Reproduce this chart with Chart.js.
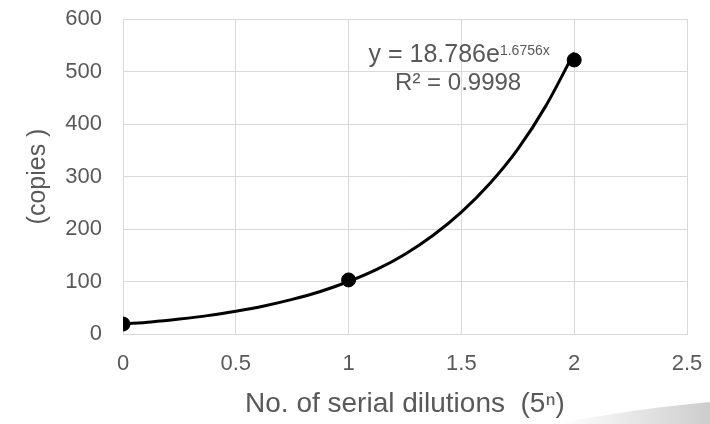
<!DOCTYPE html>
<html>
<head>
<meta charset="utf-8">
<script src="https://cdn.jsdelivr.net/npm/chart.js@4"></script>
<style>
  html, body { margin: 0; padding: 0; background: #fff; }
  #wrap { width: 710px; height: 424px; }
</style>
</head>
<body>
<div id="wrap"><canvas id="chart" width="710" height="424"></canvas></div>
<script>
// measured points
var dilutions = [0, 1, 2];
var copies = [19, 103, 522];

// exponential trendline
var trendX = [0, 0.125, 0.25, 0.375, 0.5, 0.625, 0.75, 0.875, 1, 1.125, 1.25, 1.375, 1.5, 1.625, 1.75, 1.875, 2];
var trendY = [19, 23, 28.5, 35, 43.5, 53.5, 66, 81, 100, 123, 152, 188, 232, 286, 352, 435, 536];

var equationText = "y = 18.786e";
var equationExp = "1.6756x";
var r2Text = "R² = 0.9998";

var textColor = "#595959";
var gridColor = "#d9d9d9";
var fontFamily = "'Liberation Sans', Arial, sans-serif";

// grey swoosh in the bottom right corner
var swoosh = {
    id: "swoosh",
    beforeDraw: function(chart) {
        var ctx = chart.ctx;
        ctx.save();
        var g = ctx.createLinearGradient(560, 0, 710, 0);
        g.addColorStop(0, "rgba(205,205,205,0)");
        g.addColorStop(1, "rgba(205,205,205,1)");
        ctx.fillStyle = g;
        ctx.beginPath();
        ctx.moveTo(555, 424);
        ctx.quadraticCurveTo(640, 408, 710, 402);
        ctx.lineTo(710, 424);
        ctx.closePath();
        ctx.fill();
        ctx.restore();
    }
};

// trendline label
var trendLabel = {
    id: "trendLabel",
    afterDraw: function(chart) {
        var ctx = chart.ctx;
        var xs = chart.scales.x, ys = chart.scales.y;
        var cx = xs.getPixelForValue(1.49);
        var y1 = ys.getPixelForValue(518);
        var y2 = ys.getPixelForValue(465);
        ctx.save();
        ctx.fillStyle = textColor;
        ctx.textBaseline = "alphabetic";
        ctx.font = "25px " + fontFamily;
        var w1 = ctx.measureText(equationText).width;
        ctx.font = "14px " + fontFamily;
        var w2 = ctx.measureText(equationExp).width;
        var start = cx - (w1 + w2) / 2;
        ctx.textAlign = "left";
        ctx.font = "25px " + fontFamily;
        ctx.fillText(equationText, start, y1);
        ctx.font = "14px " + fontFamily;
        ctx.fillText(equationExp, start + w1, y1 - 7);
        ctx.font = "24px " + fontFamily;
        ctx.textAlign = "center";
        ctx.fillText(r2Text, cx - 1, y2);
        ctx.restore();
    }
};

new Chart("chart", {
    type: "scatter",
    data: {
        datasets: [{
            label: "Trend",
            type: "line",
            data: trendX.map(function(x, i) { return { x: x, y: trendY[i] }; }),
            borderColor: "#000",
            borderWidth: 3,
            pointRadius: 0,
            cubicInterpolationMode: "monotone",
            fill: false,
            order: 2
        }, {
            label: "copies",
            data: dilutions.map(function(x, i) { return { x: x, y: copies[i] }; }),
            backgroundColor: "#000",
            borderColor: "#000",
            pointRadius: 7,
            pointHoverRadius: 7,
            order: 1
        }]
    },
    options: {
        responsive: false,
        animation: false,
        layout: { padding: { top: 19, right: 23, left: 0, bottom: 0 } },
        plugins: {
            legend: { display: false },
            tooltip: { enabled: false }
        },
        scales: {
            x: {
                type: "linear",
                min: 0,
                max: 2.5,
                ticks: {
                    stepSize: 0.5,
                    padding: 17,
                    color: textColor,
                    font: { family: fontFamily, size: 22 },
                    callback: function(v) { return String(v); }
                },
                grid: { color: gridColor, drawTicks: false },
                border: { color: gridColor },
                title: {
                    display: true,
                    text: "No. of serial dilutions  (5ⁿ)",
                    color: textColor,
                    font: { family: fontFamily, size: 28 },
                    padding: { top: 0, bottom: 3 }
                },
                afterFit: function(s) {
                    s.height = 90;
                    s.paddingLeft = 0;
                    s.paddingRight = 0;
                }
            },
            y: {
                min: 0,
                max: 600,
                ticks: {
                    stepSize: 100,
                    padding: 21,
                    color: textColor,
                    font: { family: fontFamily, size: 22 }
                },
                grid: { color: gridColor, drawTicks: false },
                border: { color: gridColor },
                title: {
                    display: true,
                    text: "(copies )",
                    color: textColor,
                    font: { family: fontFamily, size: 25 },
                    padding: { top: 23, bottom: 0 }
                },
                afterFit: function(s) {
                    s.width = 123;
                    s.paddingTop = 0;
                    s.paddingBottom = 0;
                }
            }
        }
    },
    plugins: [swoosh, trendLabel]
});
</script>
</body>
</html>
